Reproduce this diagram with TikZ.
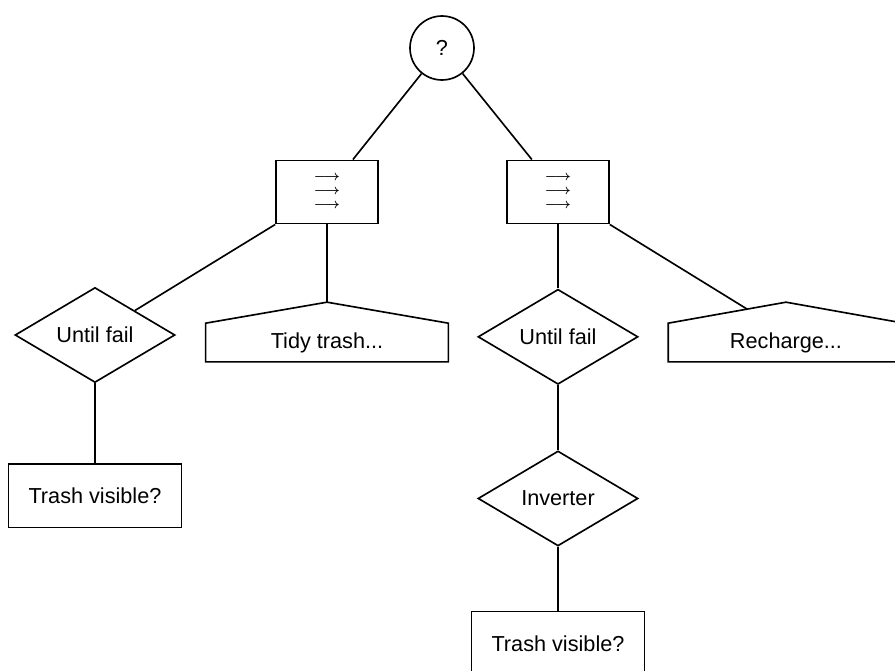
\documentclass[tikz,border=0pt]{standalone}
\usepackage{fontspec}
\setmainfont{Liberation Sans}
\usepackage{tikz}
\usetikzlibrary{positioning,calc,shapes.geometric}

\begin{document}
\begin{tikzpicture}[x=0.03cm,y=-0.03cm,line width=1.4pt,font=\fontsize{18.5}{21}\selectfont]
\tikzstyle{sel}=[circle,draw,minimum size=1.92cm,inner sep=0pt]
\tikzstyle{seq}=[rectangle,draw,minimum width=3.06cm,minimum height=1.9cm,inner sep=0pt,align=center,font=\fontsize{12}{12}\selectfont\boldmath]
\tikzstyle{deco}=[diamond,draw,minimum width=4.8cm,minimum height=2.85cm,inner sep=0pt]
\tikzstyle{cond}=[rectangle,draw,minimum width=5.2cm,minimum height=1.9cm]
\tikzstyle{task}=[rectangle,minimum height=1.11cm]
\clip (0,0) rectangle (895,670);
% selector and the two sequences
\node[sel] (root) at (442,48) {?};
\node[seq] (lseq) at (327,192) {$\longrightarrow$\\$\longrightarrow$\\$\longrightarrow$};
\node[seq] (rseq) at (558,192) {$\longrightarrow$\\$\longrightarrow$\\$\longrightarrow$};
% left branch
\node[deco] (lfail) at (95,335) {Until fail};
\node[cond,below=2.4cm of lfail] (lcheck) {Trash visible?};
\node[task,minimum width=7.23cm] (tidy) at (327,342.5) {Tidy trash...};
\coordinate[above=0.63cm of tidy.north] (tidytop);
\draw (tidy.south west) -- (tidy.north west) -- (tidytop) -- (tidy.north east) -- (tidy.south east) -- cycle;
% right branch
\node[deco,below=1.92cm of rseq] (rfail) {Until fail};
\node[deco,below=1.95cm of rfail] (inv) {Inverter};
\node[cond,below=1.92cm of inv] (rcheck) {Trash visible?};
\node[task,minimum width=7.02cm] (rech) at (786,342.5) {Recharge...};
\coordinate[above=0.63cm of rech.north] (rechtop);
\coordinate (rechroof) at ($(rech.north west)!0.67!(rechtop)$);
\draw (rech.south west) -- (rech.north west) -- (rechtop) -- (rech.north east) -- (rech.south east) -- cycle;
% connectors
\draw (root) -- (lseq);
\draw (root) -- (rseq);
\draw (lseq.south west) -- (lfail);
\draw (lseq) -- (tidytop);
\draw (lfail) -- (lcheck);
\draw (rseq) -- (rfail);
\draw (rseq.south east) -- (rechroof);
\draw (rfail) -- (inv);
\draw (inv) -- (rcheck);
\end{tikzpicture}
\end{document}
